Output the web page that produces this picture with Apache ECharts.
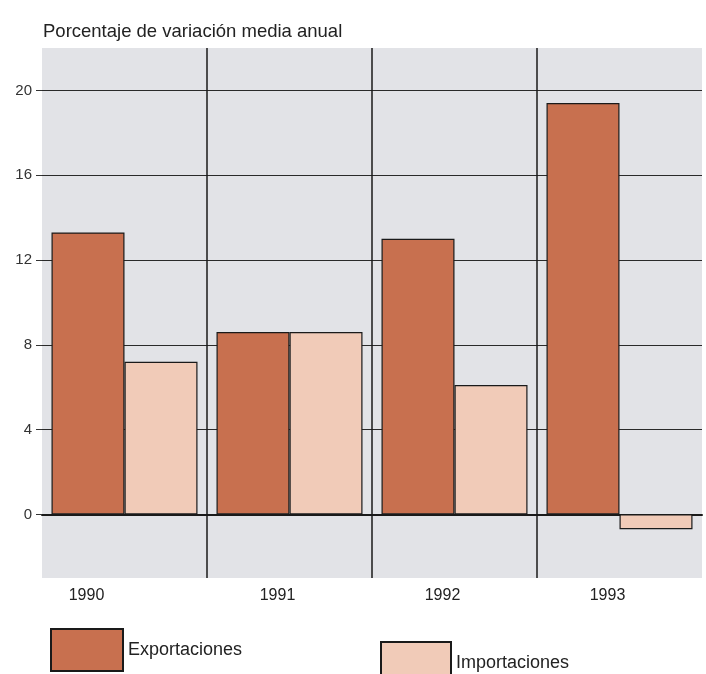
<!DOCTYPE html>
<html>
<head>
<meta charset="utf-8">
<script src="https://cdn.jsdelivr.net/npm/echarts@6/dist/echarts.min.js"></script>
<style>
  html, body { margin: 0; padding: 0; background: #ffffff; }
  #chart { width: 706px; height: 674px; }
</style>
</head>
<body>
<div id="chart"></div>
<script>
// Annual average change (%) of exports and imports, 1990-1993
const years = ['1990', '1991', '1992', '1993'];
const exportaciones = [13.3, 8.6, 13.0, 19.4];
const importaciones = [7.2, 8.6, 6.1, -0.7];
const yTicks = [0, 4, 8, 12, 16, 20];

const FONT = '"Liberation Sans", Arial, sans-serif';
const EXP_COLOR = '#c8704f';
const IMP_COLOR = '#f1cbb8';

const chart = echarts.init(document.getElementById('chart'), null, { renderer: 'canvas' });

chart.setOption({
  backgroundColor: '#ffffff',
  animation: false,
  title: {
    text: 'Porcentaje de variación media anual',
    left: 38,
    top: 17,
    textStyle: { fontFamily: FONT, fontSize: 18.5, fontWeight: 'normal', color: '#222' }
  },
  legend: [
    {
      data: ['Exportaciones'],
      left: 45, top: 623,
      itemWidth: 72, itemHeight: 42, itemGap: 10,
      icon: 'rect',
      textStyle: { fontFamily: FONT, fontSize: 18, color: '#222', padding: [4, 0, 0, 0] }
    },
    {
      data: ['Importaciones'],
      left: 375, top: 636,
      itemWidth: 70, itemHeight: 42, itemGap: 10,
      icon: 'rect',
      textStyle: { fontFamily: FONT, fontSize: 18, color: '#222', padding: [12, 0, 0, 0] }
    }
  ],
  grid: {
    left: 42, right: 4, top: 48, bottom: 96,
    show: true,
    backgroundColor: '#e2e3e7',
    borderWidth: 0
  },
  xAxis: {
    type: 'category',
    data: years,
    axisLine: { onZero: true, lineStyle: { color: '#1a1a1a', width: 2 } },
    axisTick: { show: false },
    axisLabel: {
      margin: 10, fontFamily: FONT, fontSize: 16, color: '#222',
      // the year captions sit a little to the left of each bar pair
      formatter: (v, i) => (i === 0 ? '{first|' + v + '}' : '{rest|' + v + '}'),
      rich: {
        first: { fontFamily: FONT, fontSize: 16, color: '#222', padding: [0, 76, 0, 0] },
        rest: { fontFamily: FONT, fontSize: 16, color: '#222', padding: [0, 24, 0, 0] }
      }
    },
    splitLine: {
      show: true,
      showMinLine: false,
      showMaxLine: false,
      lineStyle: { color: '#1a1a1a', width: 1.5 }
    }
  },
  yAxis: {
    type: 'value',
    min: -3,
    max: 22,
    axisLine: { show: false },
    axisTick: {
      show: true, length: 6, customValues: yTicks,
      lineStyle: { color: '#333' }
    },
    axisLabel: {
      customValues: yTicks,
      margin: 10,
      fontFamily: FONT, fontSize: 15, color: '#333'
    },
    splitLine: { show: true, lineStyle: { color: '#2a2a2a', width: 1.2 } }
  },
  series: [
    {
      name: 'Exportaciones',
      type: 'bar',
      data: exportaciones,
      barWidth: 73,
      barGap: '0%',
      itemStyle: { color: EXP_COLOR, borderColor: '#1a1a1a', borderWidth: 1.2 }
    },
    {
      name: 'Importaciones',
      type: 'bar',
      data: importaciones,
      barWidth: 73,
      itemStyle: { color: IMP_COLOR, borderColor: '#1a1a1a', borderWidth: 1.2 }
    }
  ]
});
</script>
</body>
</html>
